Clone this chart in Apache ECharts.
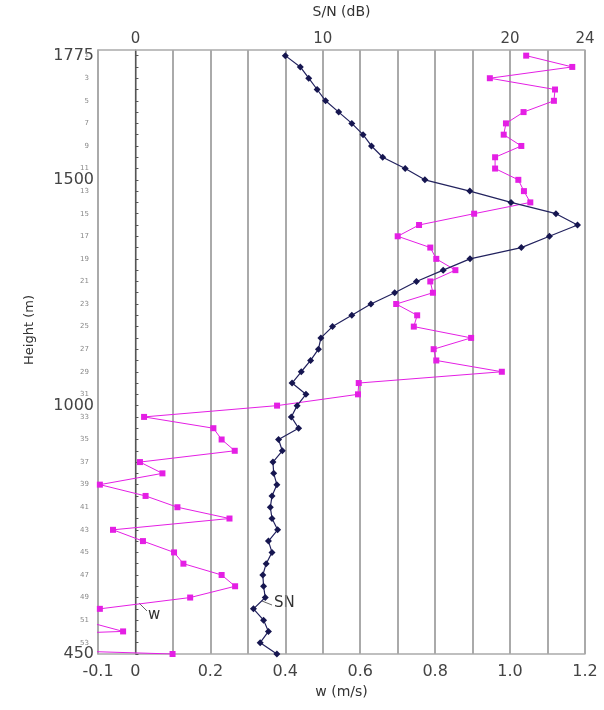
<!DOCTYPE html>
<html>
<head>
<meta charset="utf-8">
<script src="https://cdn.jsdelivr.net/npm/echarts@6/dist/echarts.min.js"></script>
<style>
  html, body { margin: 0; padding: 0; background: #fff; }
  #chart { width: 604px; height: 710px; }
</style>
</head>
<body>
<div id="chart"></div>
<script>
// range gates, top to bottom
const gates = [1, 2, 3, 4, 5, 6, 7, 8, 9, 10, 11, 12, 13, 14, 15, 16, 17, 18, 19, 20,
  21, 22, 23, 24, 25, 26, 27, 28, 29, 30, 31, 32, 33, 34, 35, 36, 37, 38, 39, 40,
  41, 42, 43, 44, 45, 46, 47, 48, 49, 50, 51, 52, 53, 54];
const heights = [1775, 1750, 1725, 1700, 1675, 1650, 1625, 1600, 1575, 1550,
  1525, 1500, 1475, 1450, 1425, 1400, 1375, 1350, 1325, 1300,
  1275, 1250, 1225, 1200, 1175, 1150, 1125, 1100, 1075, 1050,
  1025, 1000, 975, 950, 925, 900, 875, 850, 825, 800,
  775, 750, 725, 700, 675, 650, 625, 600, 575, 550,
  525, 500, 475, 450];
// vertical velocity w (m/s)
const wValues = [1.043, 1.166, 0.946, 1.12, 1.117, 1.036, 0.989, 0.983, 1.03, 0.96,
  0.96, 1.022, 1.037, 1.054, 0.904, 0.757, 0.70, 0.787, 0.803, 0.854,
  0.787, 0.794, 0.696, 0.752, 0.743, 0.896, 0.796, 0.803, 0.978, 0.596,
  0.594, 0.378, 0.023, 0.208, 0.23, 0.265, 0.012, 0.072, -0.095, 0.027,
  0.112, 0.251, -0.06, 0.02, 0.103, 0.128, 0.23, 0.266, 0.146, -0.095,
  -0.145, -0.033, -0.9, 0.099];
// signal to noise ratio (dB)
const snValues = [8.0, 8.8, 9.25, 9.7, 10.15, 10.85, 11.55, 12.15, 12.6, 13.2,
  14.4, 15.45, 17.85, 20.05, 22.45, 23.6, 22.1, 20.6, 17.86, 16.43,
  15.0, 13.84, 12.57, 11.55, 10.52, 9.9, 9.77, 9.35, 8.85, 8.36,
  9.1, 8.63, 8.32, 8.71, 7.64, 7.84, 7.34, 7.38, 7.55, 7.29,
  7.2, 7.29, 7.59, 7.1, 7.29, 6.98, 6.8, 6.84, 6.93, 6.3,
  6.84, 7.1, 6.66, 7.55];

const heightTicks = [1775, 1500, 1000, 450];
const wTicks = [-0.1, 0, 0.2, 0.4, 0.6, 0.8, 1.0, 1.2];
const snTicks = [0, 10, 20, 24];
const gateLabels = gates.filter((g) => g % 2 === 1);

const FONT = 'DejaVu Sans';
const chart = echarts.init(document.getElementById('chart'), null, { renderer: 'canvas' });

chart.setOption({
  animation: false,
  backgroundColor: '#fff',
  textStyle: { fontFamily: FONT },
  grid: { left: 98, right: 19, top: 47, bottom: 56 },
  xAxis: [
    {
      type: 'value', position: 'bottom',
      min: -0.1, max: 1.2, interval: 0.1,
      name: 'w (m/s)', nameLocation: 'middle', nameGap: 30,
      nameTextStyle: { fontSize: 14, color: '#333', fontFamily: FONT },
      axisLine: { onZero: false, lineStyle: { color: '#aaa', width: 1.5 } },
      axisTick: { show: false },
      axisLabel: {
        customValues: wTicks, margin: 10, fontSize: 16, color: '#444', fontFamily: FONT,
        formatter: (v) => (Math.abs(v) < 1e-9 ? '0' : v.toFixed(1))
      },
      splitLine: { show: true, lineStyle: { color: '#8e8e8e', width: 1.5 } }
    },
    {
      type: 'value', position: 'top',
      min: -2, max: 24, interval: 2,
      name: 'S/N (dB)', nameLocation: 'middle', nameGap: 31,
      nameTextStyle: { fontSize: 14, color: '#333', fontFamily: FONT },
      axisLine: { onZero: false, lineStyle: { color: '#aaa', width: 1.5 } },
      axisTick: { show: false },
      axisLabel: {
        customValues: snTicks, margin: 3, fontSize: 15, color: '#444', fontFamily: FONT,
        formatter: (v) => String(v)
      },
      splitLine: { show: false }
    }
  ],
  yAxis: [
    {
      type: 'value', position: 'left',
      min: 450, max: 1787.5,
      name: 'Height (m)', nameLocation: 'middle', nameGap: 62,
      nameTextStyle: { fontSize: 13, color: '#333', fontFamily: FONT, padding: [0, 0, 0, 44] },
      axisLine: { show: true, onZero: false, lineStyle: { color: '#aaa', width: 1.5 } },
      axisTick: { show: false },
      axisLabel: {
        customValues: heightTicks, margin: 4, fontSize: 16, color: '#444', fontFamily: FONT,
        formatter: (v) => String(v)
      },
      splitLine: { show: false }
    },
    {
      type: 'value', position: 'left',
      min: 0.5, max: 54, inverse: true,
      axisLine: { show: true, onZero: true, onZeroAxisIndex: 0, lineStyle: { color: '#555', width: 1.2 } },
      axisTick: { show: true, customValues: gates, inside: true, length: 3, lineStyle: { color: '#555' } },
      axisLabel: {
        customValues: gateLabels, margin: 9, fontSize: 7, color: '#888', fontFamily: FONT,
        formatter: (v) => String(v)
      },
      splitLine: { show: false }
    }
  ],
  series: [
    {
      name: 'w', type: 'line',
      xAxisIndex: 0, yAxisIndex: 0,
      data: heights.map((h, i) => [wValues[i], h]),
      symbol: 'rect', symbolSize: 6,
      itemStyle: { color: '#e41fe4' },
      lineStyle: { color: '#e41fe4', width: 1 },
      z: 2
    },
    {
      name: 'SN', type: 'line',
      xAxisIndex: 1, yAxisIndex: 0,
      data: heights.map((h, i) => [snValues[i], h]),
      symbol: 'diamond', symbolSize: 7,
      itemStyle: { color: '#161650' },
      lineStyle: { color: '#22225e', width: 1.2 },
      z: 3
    }
  ],
  graphic: [
    { type: 'line', shape: { x1: 139, y1: 603, x2: 147, y2: 611 }, style: { stroke: '#666', lineWidth: 1 } },
    { type: 'text', left: 148, top: 608, style: { text: 'w', fontSize: 15, fill: '#333', fontFamily: FONT } },
    { type: 'line', shape: { x1: 262, y1: 601, x2: 272, y2: 605 }, style: { stroke: '#666', lineWidth: 1 } },
    { type: 'text', left: 274, top: 596, style: { text: 'SN', fontSize: 15, fill: '#333', fontFamily: FONT } }
  ]
});
</script>
</body>
</html>
